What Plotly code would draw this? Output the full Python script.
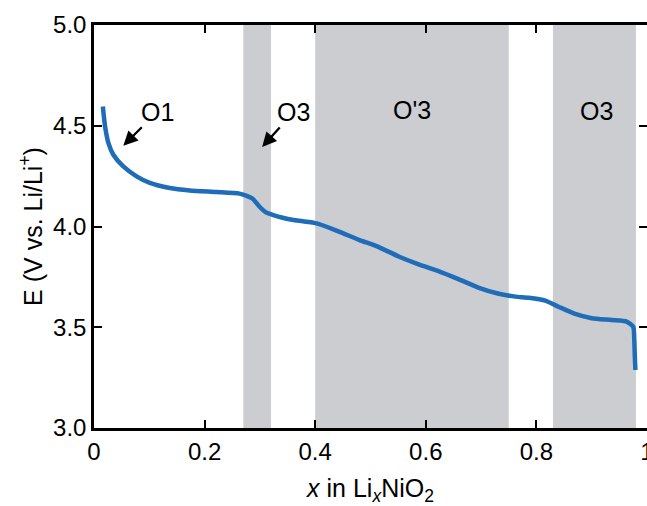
import plotly.graph_objects as go

# Discharge curve: x in LixNiO2 vs potential E (V vs. Li/Li+)
x_li = [0.016, 0.020, 0.026, 0.035, 0.053, 0.077, 0.101, 0.137, 0.173, 0.221,
        0.263, 0.275, 0.287, 0.299, 0.311, 0.323, 0.353, 0.389, 0.407, 0.443,
        0.479, 0.515, 0.551, 0.587, 0.623, 0.659, 0.695, 0.732, 0.762, 0.786,
        0.816, 0.840, 0.870, 0.900, 0.936, 0.963, 0.975, 0.977, 0.978, 0.979]
e_volt = [4.596, 4.497, 4.415, 4.356, 4.298, 4.249, 4.216, 4.191, 4.179, 4.171,
          4.163, 4.153, 4.138, 4.099, 4.070, 4.058, 4.036, 4.022, 4.012, 3.975,
          3.934, 3.898, 3.851, 3.812, 3.779, 3.739, 3.697, 3.666, 3.652, 3.646,
          3.632, 3.602, 3.566, 3.545, 3.536, 3.528, 3.503, 3.437, 3.354, 3.288]

# Two-phase regions (shaded)
band_start = [0.27, 0.40, 0.83]
band_end = [0.32, 0.75, 0.98]

# Phase labels
phase_text = ["O1", "O3", "O'3", "O3"]
phase_x = [0.114, 0.360, 0.575, 0.908]
phase_y = [4.57, 4.57, 4.58, 4.575]

# Arrows pointing at the curve (head position and tail offset in px)
arrow_x = [0.053, 0.304]
arrow_y = [4.401, 4.395]
arrow_dx = [20, 19]
arrow_dy = [-20, -21]

x_ticks = [0, 0.2, 0.4, 0.6, 0.8, 1.0]
x_ticktext = ["0", "0.2", "0.4", "0.6", "0.8", "1"]
y_ticks = [3.0, 3.5, 4.0, 4.5, 5.0]

FONT = "Liberation Sans, Arial, sans-serif"
BAND = "#cbcdd0"
BLUE = "#1f6db8"

fig = go.Figure()

fig.add_trace(go.Scatter(
    x=x_li, y=e_volt, mode="lines",
    line=dict(color=BLUE, width=4.5, shape="spline", smoothing=0.6),
    showlegend=False, hoverinfo="skip",
))

# invisible trace to carry the right-hand tick marks
fig.add_trace(go.Scatter(x=[None], y=[None], yaxis="y2", showlegend=False))

for x0, x1 in zip(band_start, band_end):
    fig.add_shape(type="rect", xref="x", yref="y", x0=x0, x1=x1, y0=3.0, y1=5.0,
                  fillcolor=BAND, line=dict(width=0), layer="below")

for t, px, py in zip(phase_text, phase_x, phase_y):
    fig.add_annotation(x=px, y=py, text=t, showarrow=False,
                       font=dict(family=FONT, size=25, color="black"))

for hx, hy, dx, dy in zip(arrow_x, arrow_y, arrow_dx, arrow_dy):
    fig.add_annotation(x=hx, y=hy, text="", showarrow=True, ax=dx, ay=dy,
                       arrowhead=2, arrowsize=1.25, arrowwidth=2.3,
                       arrowcolor="black")

fig.update_layout(
    width=647, height=506,
    margin=dict(l=94, r=0, t=25, b=78),
    paper_bgcolor="white", plot_bgcolor="white",
    font=dict(family=FONT, size=24, color="black"),
    xaxis=dict(
        range=[0, 1.0], tickvals=x_ticks, ticktext=x_ticktext,
        ticks="inside", ticklen=8, tickwidth=2, tickcolor="black",
        showline=True, linewidth=2.5, linecolor="black", mirror="ticks",
        showgrid=False, zeroline=False, ticklabeloverflow="allow",
        automargin=False,
        tickfont=dict(family=FONT, size=24),
        title=dict(text="<i>x</i> in Li<sub><i>x</i></sub>NiO<sub>2</sub>",
                   font=dict(family=FONT, size=25), standoff=16),
    ),
    yaxis=dict(
        range=[3.0, 5.0], tickvals=y_ticks, tickformat=".1f",
        ticks="inside", ticklen=8, tickwidth=2, tickcolor="black",
        showline=True, linewidth=2.5, linecolor="black", mirror=False,
        showgrid=False, zeroline=False, automargin=False,
        tickfont=dict(family=FONT, size=24),
        title=dict(text="E (V vs. Li/Li<sup>+</sup>)",
                   font=dict(family=FONT, size=25), standoff=4),
    ),
    yaxis2=dict(
        overlaying="y", side="right", range=[3.0, 5.0], tickvals=y_ticks,
        ticks="inside", ticklen=8, tickwidth=2, tickcolor="black",
        showticklabels=False, showline=False, showgrid=False, zeroline=False,
        automargin=False,
    ),
)

fig.write_html("out.html")
